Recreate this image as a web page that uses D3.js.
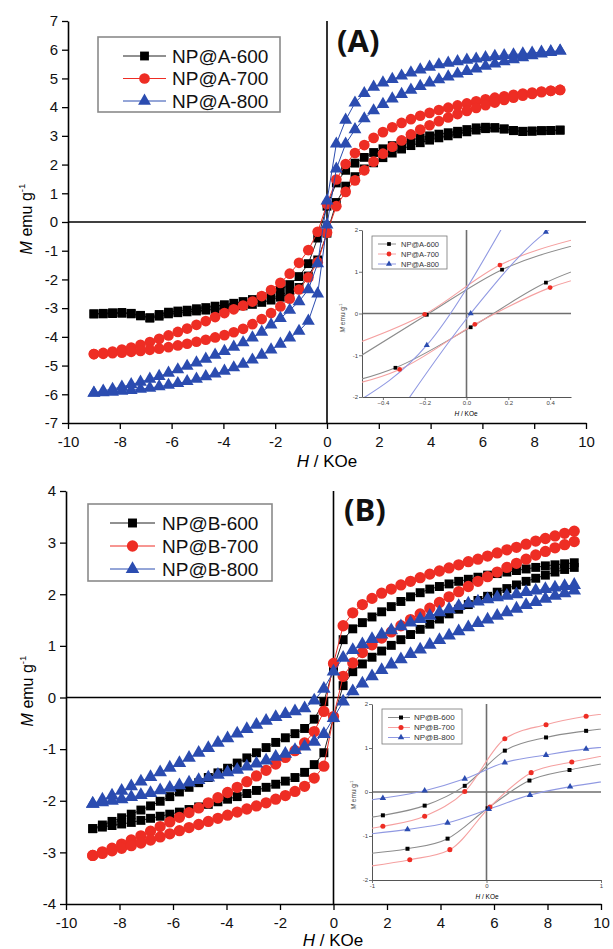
<!DOCTYPE html>
<html>
<head>
<meta charset="utf-8">
<script src="https://cdn.jsdelivr.net/npm/d3@7"></script>
<style>
  body { margin: 0; background: #fff; }
  svg { display: block; font-family: "Liberation Sans", Arial, sans-serif; }
</style>
</head>
<body>
<svg id="chart" width="613" height="949"></svg>
<script>

// field grid shared by all main-panel branches (KOe)
var hGrid = [-9.00,-8.64,-8.28,-7.92,-7.56,-7.20,-6.84,-6.48,-6.12,-5.76,-5.40,-5.04,-4.68,-4.32,-3.96,-3.60,-3.24,-2.88,-2.52,-2.16,-1.80,-1.44,-1.08,-0.72,-0.36,
             0.00,0.36,0.72,1.08,1.44,1.80,2.16,2.52,2.88,3.24,3.60,3.96,4.32,4.68,5.04,5.40,5.76,6.12,6.48,6.84,7.20,7.56,7.92,8.28,8.64,9.00];

// ---- panel A (upper = descending sweep, lower = ascending sweep) ----
var a600Up = [-3.20,-3.18,-3.16,-3.15,-3.18,-3.25,-3.33,-3.22,-3.14,-3.10,-3.07,-3.02,-2.98,-2.93,-2.88,-2.83,-2.77,-2.70,-2.61,-2.50,-2.36,-2.18,-1.90,-1.45,-0.56,
              0.55,1.36,1.80,2.05,2.25,2.42,2.55,2.66,2.76,2.85,2.93,3.00,3.06,3.11,3.16,3.22,3.28,3.30,3.29,3.24,3.18,3.15,3.16,3.18,3.19,3.20];
var a600Lo = [-3.20,-3.20,-3.19,-3.18,-3.20,-3.27,-3.35,-3.28,-3.20,-3.16,-3.13,-3.10,-3.07,-3.04,-3.01,-2.97,-2.92,-2.87,-2.80,-2.72,-2.62,-2.48,-2.28,-1.88,-1.32,
              -0.39,0.68,1.25,1.58,1.85,2.06,2.24,2.40,2.54,2.66,2.76,2.85,2.93,3.00,3.07,3.14,3.20,3.25,3.27,3.24,3.19,3.16,3.17,3.18,3.19,3.20];
var a700Up = [-4.60,-4.56,-4.51,-4.44,-4.37,-4.28,-4.18,-4.07,-3.95,-3.83,-3.71,-3.58,-3.45,-3.31,-3.17,-3.04,-2.91,-2.77,-2.58,-2.37,-2.12,-1.80,-1.42,-0.98,-0.34,
              0.62,1.48,2.02,2.40,2.68,2.93,3.13,3.30,3.45,3.58,3.70,3.80,3.90,3.98,4.06,4.13,4.20,4.27,4.33,4.38,4.43,4.47,4.51,4.54,4.57,4.60];
var a700Lo = [-4.60,-4.59,-4.57,-4.55,-4.52,-4.49,-4.45,-4.41,-4.36,-4.30,-4.24,-4.17,-4.10,-4.02,-3.94,-3.84,-3.72,-3.56,-3.38,-3.17,-2.94,-2.67,-2.35,-1.93,-1.40,
              -0.37,0.55,1.05,1.45,1.80,2.10,2.38,2.62,2.84,3.05,3.22,3.37,3.51,3.64,3.76,3.87,3.97,4.07,4.16,4.25,4.33,4.40,4.46,4.52,4.57,4.60];
var a800Up = [-5.95,-5.88,-5.82,-5.74,-5.66,-5.57,-5.47,-5.37,-5.26,-5.14,-5.02,-4.90,-4.77,-4.63,-4.50,-4.35,-4.20,-4.03,-3.83,-3.58,-3.35,-3.07,-2.77,-2.35,-1.45,
              0.74,2.72,3.55,4.15,4.48,4.70,4.85,4.97,5.09,5.20,5.30,5.40,5.48,5.54,5.59,5.64,5.68,5.73,5.77,5.80,5.83,5.86,5.89,5.92,5.94,5.96];
var a800Lo = [-5.96,-5.94,-5.92,-5.89,-5.86,-5.82,-5.78,-5.73,-5.68,-5.62,-5.55,-5.47,-5.38,-5.29,-5.19,-5.07,-4.95,-4.80,-4.63,-4.45,-4.25,-4.03,-3.80,-3.45,-2.50,
              -0.10,1.85,2.72,3.22,3.60,3.88,4.10,4.29,4.45,4.60,4.73,4.85,4.96,5.06,5.16,5.25,5.34,5.43,5.51,5.59,5.66,5.73,5.80,5.86,5.91,5.96];

// ---- panel B ----
var b600Up = [-2.54,-2.47,-2.40,-2.33,-2.26,-2.18,-2.10,-2.01,-1.92,-1.83,-1.74,-1.65,-1.55,-1.46,-1.37,-1.27,-1.17,-1.07,-0.97,-0.87,-0.78,-0.70,-0.60,-0.42,-0.08,
              0.57,1.12,1.33,1.45,1.56,1.66,1.76,1.86,1.95,2.03,2.10,2.15,2.20,2.25,2.29,2.33,2.37,2.40,2.43,2.46,2.49,2.52,2.55,2.57,2.59,2.61];
var b600Lo = [-2.54,-2.51,-2.48,-2.45,-2.42,-2.38,-2.34,-2.30,-2.26,-2.22,-2.17,-2.12,-2.07,-2.02,-1.97,-1.92,-1.86,-1.80,-1.74,-1.68,-1.62,-1.55,-1.45,-1.30,-1.07,
              -0.39,0.23,0.50,0.65,0.78,0.90,1.01,1.12,1.22,1.32,1.42,1.52,1.62,1.71,1.80,1.88,1.96,2.04,2.11,2.18,2.25,2.31,2.37,2.43,2.48,2.52];
var b700Up = [-3.06,-2.99,-2.92,-2.84,-2.76,-2.68,-2.59,-2.50,-2.41,-2.32,-2.23,-2.14,-2.04,-1.94,-1.84,-1.74,-1.63,-1.52,-1.41,-1.29,-1.16,-1.03,-0.88,-0.66,-0.27,
              0.66,1.39,1.64,1.80,1.92,2.02,2.10,2.18,2.25,2.32,2.39,2.45,2.51,2.57,2.63,2.68,2.74,2.80,2.86,2.91,2.97,3.03,3.08,3.13,3.18,3.22];
var b700Lo = [-3.06,-3.02,-2.97,-2.92,-2.87,-2.82,-2.76,-2.70,-2.64,-2.58,-2.52,-2.46,-2.40,-2.34,-2.28,-2.22,-2.16,-2.10,-2.04,-1.97,-1.90,-1.82,-1.72,-1.56,-1.33,
              -0.37,0.41,0.67,0.87,1.02,1.15,1.27,1.39,1.51,1.62,1.73,1.84,1.95,2.05,2.15,2.25,2.34,2.43,2.52,2.60,2.68,2.76,2.83,2.90,2.96,3.02];
var b800Up = [-2.06,-1.98,-1.90,-1.81,-1.72,-1.63,-1.54,-1.45,-1.36,-1.27,-1.17,-1.07,-0.98,-0.88,-0.79,-0.70,-0.61,-0.53,-0.45,-0.38,-0.32,-0.27,-0.21,-0.06,0.17,
              0.50,0.77,0.92,1.03,1.13,1.22,1.30,1.38,1.45,1.52,1.58,1.65,1.71,1.77,1.82,1.86,1.90,1.94,1.97,2.00,2.04,2.07,2.10,2.13,2.16,2.18];
var b800Lo = [-2.06,-2.03,-2.00,-1.97,-1.93,-1.89,-1.85,-1.80,-1.75,-1.70,-1.65,-1.60,-1.55,-1.50,-1.45,-1.40,-1.34,-1.28,-1.22,-1.15,-1.09,-1.02,-0.95,-0.86,-0.71,
              -0.40,-0.08,0.12,0.27,0.41,0.53,0.64,0.74,0.84,0.93,1.02,1.11,1.20,1.28,1.36,1.44,1.51,1.58,1.65,1.72,1.79,1.85,1.91,1.97,2.02,2.07];

// ---- insets: [H, M] points near the origin (points outside the frame only carry the line) ----
var insA600Up = [[-0.55,-1.15],[-0.19,-0.03],[0.17,1.05],[0.53,1.65]];
var insA600Lo = [[-0.70,-1.80],[-0.34,-1.30],[0.02,-0.33],[0.38,0.74],[0.74,1.40]];
var insA700Up = [[-0.56,-0.78],[-0.20,-0.02],[0.16,1.16],[0.52,1.78]];
var insA700Lo = [[-0.68,-1.84],[-0.32,-1.34],[0.04,-0.26],[0.40,0.62],[0.76,1.10]];
var insA800Up = [[-0.55,-2.20],[-0.19,-0.76],[0.17,2.05]];
var insA800Lo = [[-0.34,-2.50],[0.02,0.00],[0.38,1.95],[0.74,2.75]];

var insB600Up = [[-1.26,-0.66],[-0.905,-0.53],[-0.54,-0.31],[-0.19,0.14],[0.16,0.94],[0.52,1.24],[0.87,1.39],[1.23,1.50]];
var insB600Lo = [[-1.04,-1.40],[-0.69,-1.29],[-0.34,-1.06],[0.01,-0.37],[0.375,0.26],[0.725,0.50],[1.08,0.67]];
var insB700Up = [[-1.26,-0.92],[-0.905,-0.78],[-0.54,-0.55],[-0.19,0.01],[0.16,1.21],[0.52,1.53],[0.87,1.72],[1.23,1.83]];
var insB700Lo = [[-1.03,-1.69],[-0.67,-1.54],[-0.32,-1.31],[0.03,-0.34],[0.39,0.44],[0.745,0.68],[1.10,0.86]];
var insB800Up = [[-1.26,-0.26],[-0.905,-0.14],[-0.54,0.03],[-0.19,0.30],[0.16,0.67],[0.52,0.84],[0.87,0.98],[1.23,1.06]];
var insB800Lo = [[-1.04,-0.96],[-0.69,-0.85],[-0.34,-0.70],[0.02,-0.39],[0.38,-0.07],[0.73,0.12],[1.08,0.26]];

var namesA = ["NP@A-600","NP@A-700","NP@A-800"];
var namesB = ["NP@B-600","NP@B-700","NP@B-800"];

var colors     = ["#000000","#ee2d24","#2b4cb0"];
var lineColors = ["#222222","#ee2d24","#2b4cb0"];
var softColors = ["#8c8c8c","#f5a0a0","#9099e2"];
var shapes     = [d3.symbolSquare, d3.symbolCircle, d3.symbolTriangle];

var svg = d3.select("#chart");


function marker(g, i, cx, cy, sizes){
  g.append("path")
    .attr("d", d3.symbol().type(shapes[i]).size(sizes[i])())
    .attr("transform", "translate(" + cx + "," + cy + ")")
    .attr("fill", colors[i]);
}


function yLabel(g, cx, cy, fs){
  var t = g.append("text")
    .attr("transform", "translate(" + cx + "," + cy + ") rotate(-90)")
    .attr("text-anchor", "middle")
    .attr("font-size", fs);
  t.append("tspan").attr("font-style","italic").text("M");
  t.append("tspan").text(" emu g");
  t.append("tspan").attr("font-size", fs*0.6).attr("dy", -fs*0.45).text("-1");
}


function xLabel(g, cx, cy, fs){
  var t = g.append("text")
    .attr("x", cx).attr("y", cy)
    .attr("text-anchor", "middle")
    .attr("font-size", fs);
  t.append("tspan").attr("font-style","italic").text("H");
  t.append("tspan").text(" / KOe");
}


//......................... Main panel ............................
function drawPanel(p){
  var g = svg.append("g");
  var x = d3.scaleLinear().domain([-10,10]).range(p.xr);
  var y = d3.scaleLinear().domain(p.yd).range(p.yr);

  // zero lines
  g.append("line")
    .attr("x1", x(-10)).attr("x2", x(10))
    .attr("y1", y(0)).attr("y2", y(0))
    .attr("stroke","#000").attr("stroke-width",1.6);
  g.append("line")
    .attr("x1", x(0)).attr("x2", x(0))
    .attr("y1", y(p.yd[1])).attr("y2", y(p.yd[0]))
    .attr("stroke","#000").attr("stroke-width",1.6);

  // axes
  var fmt = function(d){ return String(d); };
  var xa = g.append("g").attr("transform","translate(0," + y(p.yd[0]) + ")");
  xa.call(d3.axisBottom(x).tickValues(d3.range(-9,10,2)).tickSize(3).tickSizeOuter(0).tickFormat(""));
  xa.call(d3.axisBottom(x).tickValues(d3.range(-10,11,2)).tickSize(6).tickSizeOuter(0).tickFormat(fmt));
  var ya = g.append("g").attr("transform","translate(" + x(-10) + ",0)");
  ya.call(d3.axisLeft(y).tickValues(d3.range(p.yd[0]+0.5,p.yd[1],1)).tickSize(3).tickSizeOuter(0).tickFormat(""));
  ya.call(d3.axisLeft(y).tickValues(d3.range(p.yd[0],p.yd[1]+1,1)).tickSize(6).tickSizeOuter(0).tickFormat(fmt));
  g.selectAll(".domain").attr("stroke","#000").attr("stroke-width",1.6);
  g.selectAll(".tick line").attr("stroke","#000").attr("stroke-width",1.3);
  xa.selectAll("text").attr("font-size",15).attr("font-family","Liberation Sans, Arial, sans-serif").attr("fill","#111").attr("dy","1.0em");
  ya.selectAll("text").attr("font-size",15).attr("font-family","Liberation Sans, Arial, sans-serif").attr("fill","#111").attr("x",-10);

  yLabel(g, p.yl[0], p.yl[1], 16);
  xLabel(g, p.xl[0], p.xl[1], 17);

  // series
  var line = d3.line()
    .x(function(d,i){ return x(hGrid[i]); })
    .y(function(d){ return y(d); });
  p.series.forEach(function(s,i){
    [s[0], s[1]].forEach(function(branch){
      g.append("path")
        .attr("d", line(branch))
        .attr("fill","none")
        .attr("stroke", lineColors[i])
        .attr("stroke-width",1);
    });
    [s[0], s[1]].forEach(function(branch){
      branch.forEach(function(m,k){
        marker(g, i, x(hGrid[k]), y(m), p.msize);
      });
    });
  });

  // legend
  var L = p.legend;
  g.append("rect")
    .attr("x",L.x).attr("y",L.y).attr("width",L.w).attr("height",L.h)
    .attr("fill","#fff").attr("stroke","#8a8a8a").attr("stroke-width",1.6);
  p.names.forEach(function(n,i){
    var ey = L.y + L.y0 + i*L.dy;
    g.append("line")
      .attr("x1",L.lx0).attr("x2",L.lx1).attr("y1",ey).attr("y2",ey)
      .attr("stroke",lineColors[i]).attr("stroke-width",1);
    marker(g, i, (L.lx0+L.lx1)/2, ey, p.msize);
    g.append("text")
      .attr("x",L.tx).attr("y",ey).attr("dy","0.36em")
      .attr("font-size",19).attr("fill","#111").text(n);
  });

  // panel tag
  g.append("text")
    .attr("x",p.tag[0]).attr("y",p.tag[1])
    .attr("font-family","Open Sans, sans-serif")
    .attr("font-weight","bold").attr("font-size",31)
    .attr("fill","#111").text(p.tagText);
}


//......................... Inset ............................
function drawInset(p){
  var g = svg.append("g");
  var x = d3.scaleLinear().domain(p.xd).range(p.xr);
  var y = d3.scaleLinear().domain([-2,2]).range(p.yr);

  var clipId = "clip" + p.id;
  g.append("clipPath").attr("id",clipId)
    .append("rect")
      .attr("x",p.xr[0]).attr("y",p.yr[1])
      .attr("width",p.xr[1]-p.xr[0]).attr("height",p.yr[0]-p.yr[1]);

  // zero lines
  g.append("line")
    .attr("x1",x(p.xd[0])).attr("x2",x(p.xd[1])).attr("y1",y(0)).attr("y2",y(0))
    .attr("stroke","#6e6e6e").attr("stroke-width",1.6);
  g.append("line")
    .attr("x1",x(0)).attr("x2",x(0)).attr("y1",y(2)).attr("y2",y(-2))
    .attr("stroke","#6e6e6e").attr("stroke-width",1.6);

  var xa = g.append("g").attr("transform","translate(0," + y(-2) + ")");
  xa.call(d3.axisBottom(x).tickValues(p.xMinor).tickSize(1.5).tickSizeOuter(0).tickFormat(""));
  xa.call(d3.axisBottom(x).tickValues(p.xMajor).tickSize(3).tickSizeOuter(0).tickFormat(p.xFmt));
  var ya = g.append("g").attr("transform","translate(" + x(p.xd[0]) + ",0)");
  ya.call(d3.axisLeft(y).tickValues([-1.5,-0.5,0.5,1.5]).tickSize(1.5).tickSizeOuter(0).tickFormat(""));
  ya.call(d3.axisLeft(y).tickValues([-2,-1,0,1,2]).tickSize(3).tickSizeOuter(0).tickFormat(function(d){ return String(d); }));
  g.selectAll(".domain").attr("stroke","#555").attr("stroke-width",1);
  g.selectAll(".tick line").attr("stroke","#555").attr("stroke-width",0.8);
  g.selectAll(".tick text")
    .attr("font-size",6).attr("font-family","Liberation Sans, Arial, sans-serif").attr("fill","#444");
  xa.selectAll("text").attr("dy","0.9em").attr("y",3);
  ya.selectAll("text").attr("x",-4);

  yLabel(g, p.yl[0], p.yl[1], 6.5);
  g.selectAll("text:last-of-type").attr("fill","#444");
  xLabel(g, p.xl[0], p.xl[1], 6.5);

  var line = d3.line()
    .x(function(d){ return x(d[0]); })
    .y(function(d){ return y(d[1]); })
    .curve(d3.curveMonotoneX);
  var plot = g.append("g").attr("clip-path","url(#" + clipId + ")");
  p.series.forEach(function(s,i){
    s.forEach(function(branch){
      plot.append("path")
        .attr("d", line(branch))
        .attr("fill","none")
        .attr("stroke", softColors[i])
        .attr("stroke-width",1.1);
    });
  });
  p.series.forEach(function(s,i){
    s.forEach(function(branch){
      branch.filter(function(d){ return d[0] >= p.xd[0] && d[0] <= p.xd[1]; })
        .forEach(function(d){ marker(plot, i, x(d[0]), y(d[1]), p.msize); });
    });
  });

  // legend
  var L = p.legend;
  g.append("rect")
    .attr("x",L.x).attr("y",L.y).attr("width",L.w).attr("height",L.h)
    .attr("fill","#fff").attr("stroke","#777").attr("stroke-width",0.8);
  p.names.forEach(function(n,i){
    var ey = L.y + L.y0 + i*L.dy;
    g.append("line")
      .attr("x1",L.lx0).attr("x2",L.lx1).attr("y1",ey).attr("y2",ey)
      .attr("stroke",softColors[i]).attr("stroke-width",1);
    marker(g, i, (L.lx0+L.lx1)/2 + 2, ey, p.msize);
    g.append("text")
      .attr("x",L.tx).attr("y",ey).attr("dy","0.36em")
      .attr("font-size",L.fs).attr("fill","#333").text(n);
  });
}


drawPanel({
  xr: [68, 586], yd: [-7, 7], yr: [423, 21],
  yl: [32, 219], xl: [327, 467],
  series: [[a600Up,a600Lo],[a700Up,a700Lo],[a800Up,a800Lo]],
  names: namesA,
  msize: [78, 90, 72],
  legend: {x:98, y:37, w:182, h:75, y0:19, dy:22.5, lx0:123, lx1:166, tx:172},
  tag: [337, 52], tagText: "(A)"
});

drawPanel({
  xr: [66, 601], yd: [-4, 4], yr: [904, 491],
  yl: [33, 691], xl: [333, 946],
  series: [[b600Up,b600Lo],[b700Up,b700Lo],[b800Up,b800Lo]],
  names: namesB,
  msize: [80, 100, 80],
  legend: {x:88, y:504, w:184, h:77, y0:19, dy:23, lx0:110, lx1:155, tx:162},
  tag: [344, 521], tagText: "(B)"
});

drawInset({
  id: "A", xd: [-0.5, 0.5], xr: [362, 571], yr: [397, 230],
  xMajor: [-0.4,-0.2,0,0.2,0.4], xMinor: [-0.5,-0.3,-0.1,0.1,0.3,0.5],
  xFmt: d3.format(".1f"),
  yl: [345, 318], xl: [466, 416],
  series: [[insA600Up,insA600Lo],[insA700Up,insA700Lo],[insA800Up,insA800Lo]],
  names: namesA,
  msize: [14, 18, 16],
  legend: {x:372, y:236, w:75, h:33, y0:8, dy:10, lx0:378, lx1:396, tx:401, fs:7.5}
});

drawInset({
  id: "B", xd: [-1, 1], xr: [372, 601], yr: [880, 704],
  xMajor: [-1,0,1], xMinor: [-0.5,0.5],
  xFmt: function(d){ return String(d); },
  yl: [356, 795], xl: [487, 899],
  series: [[insB600Up,insB600Lo],[insB700Up,insB700Lo],[insB800Up,insB800Lo]],
  names: namesB,
  msize: [16, 20, 18],
  legend: {x:382, y:709, w:80, h:35, y0:8.5, dy:10, lx0:388, lx1:410, tx:414, fs:8}
});

</script>
</body>
</html>
